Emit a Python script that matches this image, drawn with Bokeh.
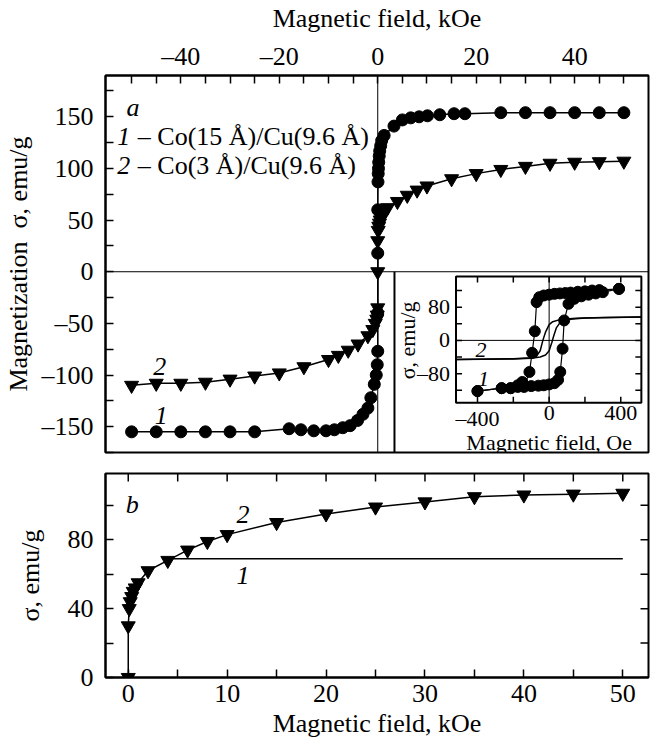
import math
from bokeh.plotting import figure
from bokeh.models import Range1d, FixedTicker, Span
from bokeh.layouts import column
from bokeh.embed import file_html
from bokeh.resources import INLINE
from bokeh.core.properties import value

FONT = "Liberation Serif"

# ---------------- data: panel a (kOe, emu/g) ----------------
c1_h = [-50, -45, -40, -35, -30, -25, -18, -15.6, -13, -10.5, -8.8, -7.1, -5.6, -4.1, -3.0,
        -2.0, -1.4, -0.7, -0.3, -0.1, 0, 0, 0, 0, 0.05, 0.1, 0.15, 0.2, 0.3, 0.4, 0.6, 0.8,
        1.3, 3.3, 5.0, 6.7, 8.4, 10.1, 12.6, 15.5, 17.7, 25, 30, 35, 40, 45, 50]
c1_s = [-155, -155, -155, -155, -155, -155, -152, -153, -154, -154, -153, -151, -149, -144, -138,
        -132, -122, -109, -100, -90, -77, -40, 18, 60, 87, 95, 100, 106, 112, 117, 122, 127,
        132, 141, 147, 149, 150, 151, 152, 153, 153, 154, 154, 154, 154, 154, 154]

c2n_h = [-50, -45, -40, -35, -30, -25, -20, -15, -10, -8, -6, -4, -2, -1, -0.5, -0.2, -0.1, 0]
c2n_s = [-110, -108, -108, -107, -104, -101, -98, -92, -85, -81, -76, -70, -62, -56, -50, -46, -42, -35]

# positive branch of curve 2 (also panel b)
c2p_h = [0, 0, 0.1, 0.2, 0.35, 0.5, 0.7, 1.0, 2, 4, 6, 8, 10, 15, 20, 25, 30, 35, 40, 45, 50]
c2p_s = [0, 30, 40, 44, 47, 50, 52, 55, 62, 68, 74, 79, 83, 90, 95, 99, 102, 105, 106, 106.5, 107]

# panel b curve 1
b1_h = [4.5, 50]
b1_s = [69, 69]

# ---------------- data: inset (Oe, emu/g) ----------------
in1_desc_h = [390, 280, 240, 200, 160, 120, 90, 60, 30, 0, -30, -55, -70, -80, -95, -110,
              -140, -150, -175, -215, -265, -400]
in1_desc_s = [124, 121, 120, 118, 117, 115, 114, 113, 112, 110, 108, 104, 92, 22, -30, -76,
              -112, -100, -108, -115, -115, -122]
in1_asc_h = [-400, -265, -215, -175, -140, -100, -60, -30, 0, 30, 50, 62, 75, 84, 108, 140,
             180, 220, 260, 300, 390]
in1_asc_s = [-122, -115, -115, -112, -110, -110, -109, -108, -106, -103, -95, -76, -20, 48,
             88, 100, 106, 110, 113, 116, 124]
in2_desc_h = [515, 300, 150, 60, 20, 0, -20, -35, -50, -70, -100, -200, -520]
in2_desc_s = [56, 55, 53, 50, 45, 38, 20, 0, -25, -38, -42, -44, -46]
in2_asc_h = [-520, -200, -100, -50, -20, 0, 15, 25, 40, 60, 100, 200, 515]
in2_asc_s = [-46, -45, -43, -40, -35, -25, -5, 10, 30, 42, 50, 54, 56]

# ---------------- ticks ----------------
a_xticks = [-40, -20, 0, 20, 40]
a_xlabels = ["\u201340", "\u201320", "0", "20", "40"]
a_xminor = [-50, -45, -35, -30, -25, -15, -10, -5, 5, 10, 15, 25, 30, 35, 45, 50]
a_yticks = [-150, -100, -50, 0, 50, 100, 150]
a_ylabels = ["\u2013150", "\u2013100", "\u201350", "0", "50", "100", "150"]
a_yminor = [-175, -125, -75, -25, 25, 75, 125, 175]

b_xticks = [0, 10, 20, 30, 40, 50]
b_xlabels = ["0", "10", "20", "30", "40", "50"]
b_xminor = [5, 15, 25, 35, 45]
b_yticks = [0, 40, 80]
b_ylabels = ["0", "40", "80"]
b_yminor = [20, 60, 100]

in_xticks = [-400, 0, 400]
in_xlabels = ["\u2013400", "0", "400"]
in_xminor = [-200, 200]
in_yticks = [-80, 0, 80]
in_ylabels = ["\u201380", "0", "80"]
in_yminor = [-120, -40, 40, 120]

FS = "26px"
IFS = "22px"
TICK = 8


def style_axis(ax, ticks, labels, minor):
    ax.ticker = FixedTicker(ticks=ticks, minor_ticks=minor)
    ax.major_label_overrides = {t: l for t, l in zip(ticks, labels)}
    ax.major_tick_in = TICK
    ax.major_tick_out = 0
    ax.minor_tick_in = TICK
    ax.minor_tick_out = 0
    ax.major_tick_line_width = 1.5
    ax.minor_tick_line_width = 1.5
    ax.axis_line_width = 2
    ax.major_label_text_font = FONT
    ax.major_label_text_font_size = FS
    ax.major_label_text_color = "black"
    ax.axis_label_text_font = FONT
    ax.axis_label_text_font_size = FS
    ax.axis_label_text_font_style = "normal"
    ax.axis_label_text_color = "black"


# ---------------- panel a ----------------
A_X = (-55.3, 55.0)
A_Y = (-175, 190)
pa = figure(width=651, height=462, x_range=Range1d(*A_X), y_range=Range1d(*A_Y),
            x_axis_location="above", output_backend="svg", toolbar_location=None,
            min_border_left=104, min_border_right=3, min_border_top=72, min_border_bottom=10)
pa.grid.visible = False
pa.outline_line_color = "black"
pa.outline_line_width = 2
pa.outline_line_alpha = 1
style_axis(pa.xaxis[0], a_xticks, a_xlabels, a_xminor)
style_axis(pa.yaxis[0], a_yticks, a_ylabels, a_yminor)
pa.xaxis[0].axis_label = "Magnetic field, kOe"
pa.yaxis[0].axis_label = "Magnetization\u00a0\u00a0\u03c3, emu/g"
pa.xaxis[0].major_label_standoff = 5
pa.xaxis[0].axis_label_standoff = 6
pa.yaxis[0].major_label_standoff = 12
pa.yaxis[0].axis_label_standoff = 6

pa.add_layout(Span(location=0, dimension="height", line_color="black", line_width=1))
pa.add_layout(Span(location=0, dimension="width", line_color="black", line_width=1))

pa.line(c1_h, c1_s, line_color="black", line_width=1.5)
pa.scatter(c1_h, c1_s, marker="circle", size=12, fill_color="black", line_color="black")
pa.line(c2n_h + c2p_h, c2n_s + c2p_s, line_color="black", line_width=1.5)
pa.scatter(c2n_h + c2p_h, c2n_s + c2p_s, marker="inverted_triangle", size=14,
           fill_color="black", line_color="black")

pa.text(x=[-49.7], y=[159], text=["a"], text_font=value(FONT), text_font_size=FS,
        text_font_style="italic", text_align="center", text_baseline="middle")
pa.text(x=[-52.9, -52.9], y=[130.8, 103], text=["1", "2"], text_font=value(FONT),
        text_font_size=FS, text_font_style="italic", text_align="left", text_baseline="middle")
pa.text(x=[-52.9, -52.9], y=[130.8, 103],
        text=["\u00a0\u2013 Co(15 \u00c5)/Cu(9.6 \u00c5)", "\u00a0\u2013 Co(3 \u00c5)/Cu(9.6 \u00c5)"],
        x_offset=14, text_font=value(FONT), text_font_size=FS, text_align="left",
        text_baseline="middle")
pa.text(x=[-44.3, -44.0], y=[-91.7, -139.6], text=["2", "1"], text_font=value(FONT),
        text_font_size=FS, text_font_style="italic", text_align="center",
        text_baseline="middle")

# ---------------- inset ----------------
IN_X = (-520, 515)
IN_Y = (-150, 154)
BOX_LEFT = 3.4
pa.segment(x0=[BOX_LEFT], y0=[0], x1=[BOX_LEFT], y1=[A_Y[0]], line_color="black", line_width=2)

sub = pa.subplot(x_source=Range1d(*IN_X), y_source=Range1d(*IN_Y),
                 x_target=Range1d(15.9, 53.55), y_target=Range1d(-126.8, -4.5))
sub.segment(x0=[IN_X[0], 0], y0=[0, IN_Y[0]], x1=[IN_X[1], 0], y1=[0, IN_Y[1]],
            line_color="black", line_width=1)
sub.quad(left=[IN_X[0]], right=[IN_X[1]], bottom=[IN_Y[0]], top=[IN_Y[1]],
         fill_color=None, line_color="black", line_width=2)
xt_all = in_xticks + in_xminor
yt_all = in_yticks + in_yminor
sub.ray(x=xt_all, y=[IN_Y[0]] * len(xt_all), length=6, length_units="screen",
        angle=math.pi / 2, line_color="black", line_width=1.5)
sub.ray(x=xt_all, y=[IN_Y[1]] * len(xt_all), length=6, length_units="screen",
        angle=-math.pi / 2, line_color="black", line_width=1.5)
sub.ray(x=[IN_X[0]] * len(yt_all), y=yt_all, length=6, length_units="screen",
        angle=0, line_color="black", line_width=1.5)
sub.ray(x=[IN_X[1]] * len(yt_all), y=yt_all, length=6, length_units="screen",
        angle=math.pi, line_color="black", line_width=1.5)
sub.text(x=in_xticks, y=[IN_Y[0]] * 3, text=in_xlabels, y_offset=3, text_font=value(FONT),
         text_font_size=IFS, text_align="center", text_baseline="top")
sub.text(x=[IN_X[0]] * 3, y=in_yticks, text=in_ylabels, x_offset=-6, text_font=value(FONT),
         text_font_size=IFS, text_align="right", text_baseline="middle")
sub.text(x=[0], y=[IN_Y[0]], text=["Magnetic field, Oe"], y_offset=27, text_font=value(FONT),
         text_font_size=IFS, text_align="center", text_baseline="top")
sub.text(x=[IN_X[0]], y=[0], text=["\u03c3, emu/g"], x_offset=-49, angle=math.pi / 2,
         text_font=value(FONT), text_font_size=IFS, text_align="center",
         text_baseline="middle")

sub.line(in2_desc_h, in2_desc_s, line_color="black", line_width=1.5)
sub.line(in2_asc_h, in2_asc_s, line_color="black", line_width=1.5)
sub.line(in1_desc_h, in1_desc_s, line_color="black", line_width=1.2)
sub.line(in1_asc_h, in1_asc_s, line_color="black", line_width=1.2)
sub.scatter(in1_desc_h + in1_asc_h, in1_desc_s + in1_asc_s, marker="circle", size=11,
            fill_color="black", line_color="black")
sub.text(x=[-381, -366], y=[-23, -92], text=["2", "1"], text_font=value(FONT),
         text_font_size=IFS, text_font_style="italic", text_align="center",
         text_baseline="middle")

# ---------------- panel b ----------------
B_X = (-2.3, 52.6)
B_Y = (0, 118.5)
pb = figure(width=651, height=281, x_range=Range1d(*B_X), y_range=Range1d(*B_Y),
            output_backend="svg", toolbar_location=None,
            min_border_left=104, min_border_right=3, min_border_top=11, min_border_bottom=66)
pb.grid.visible = False
pb.outline_line_color = "black"
pb.outline_line_width = 2
pb.outline_line_alpha = 1
style_axis(pb.xaxis[0], b_xticks, b_xlabels, b_xminor)
style_axis(pb.yaxis[0], b_yticks, b_ylabels, b_yminor)
pb.xaxis[0].axis_label = "Magnetic field, kOe"
pb.yaxis[0].axis_label = "\u03c3, emu/g"
pb.xaxis[0].major_label_standoff = 7
pb.xaxis[0].axis_label_standoff = 4
pb.yaxis[0].major_label_standoff = 12
pb.yaxis[0].axis_label_standoff = 20

# mirrored ticks on top and right of panel b
bx_all = b_xticks + b_xminor
by_all = b_yticks + b_yminor
pb.ray(x=bx_all, y=[B_Y[1]] * len(bx_all), length=TICK, length_units="screen",
       angle=-math.pi / 2, line_color="black", line_width=1.5)
pb.ray(x=[B_X[1]] * len(by_all), y=by_all, length=TICK, length_units="screen",
       angle=math.pi, line_color="black", line_width=1.5)

pb.line(b1_h, b1_s, line_color="black", line_width=1.5)
pb.line(c2p_h, c2p_s, line_color="black", line_width=1.5)
pb.scatter(c2p_h, c2p_s, marker="inverted_triangle", size=14, fill_color="black",
           line_color="black")
pb.text(x=[0.4], y=[100.5], text=["b"], text_font=value(FONT), text_font_size=FS,
        text_font_style="italic", text_align="center", text_baseline="middle")
pb.text(x=[11.6, 11.6], y=[94.7, 59], text=["2", "1"], text_font=value(FONT),
        text_font_size=FS, text_font_style="italic", text_align="center",
        text_baseline="middle")

layout = column(pa, pb, spacing=0)
open("out.html", "w").write(file_html(layout, INLINE))
